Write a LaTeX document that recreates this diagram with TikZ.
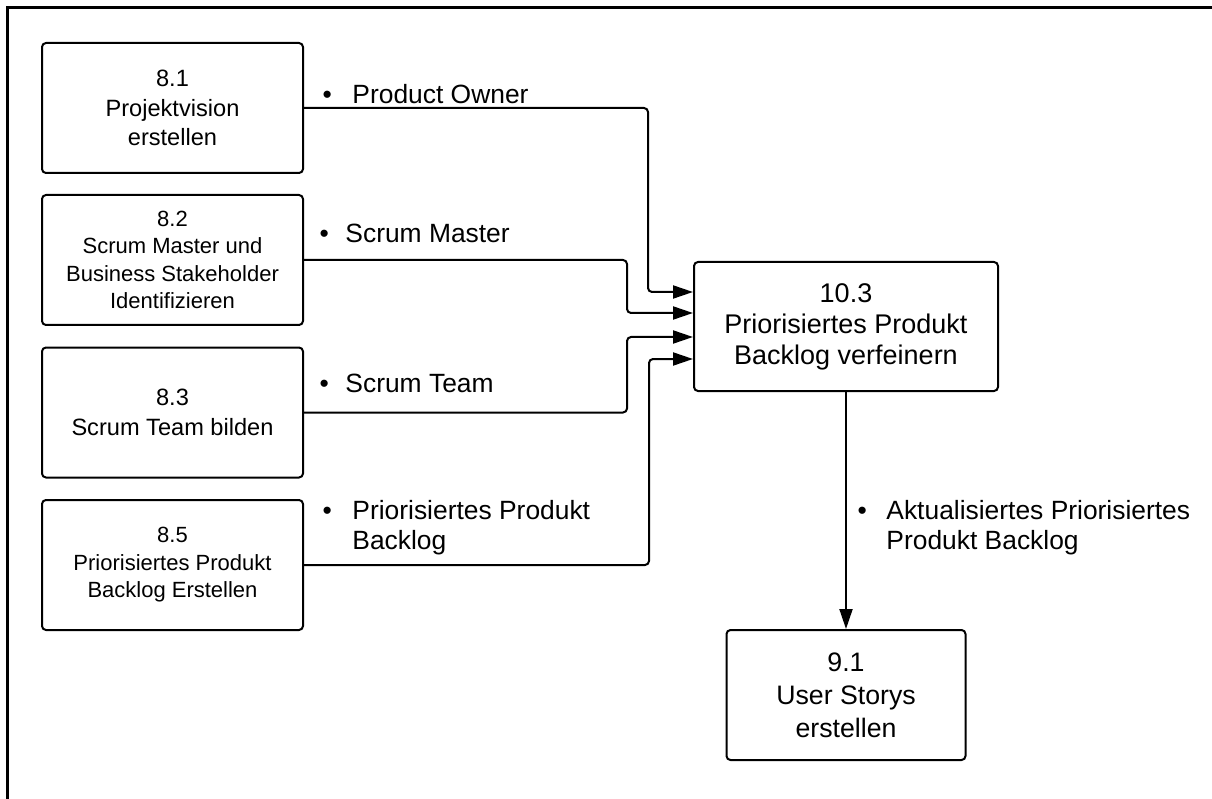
\documentclass[tikz,border=0pt]{standalone}
\usepackage{fontspec}
\setmainfont{Liberation Sans}
\usetikzlibrary{arrows.meta}

\begin{document}
\begin{tikzpicture}[x=1pt, y=-1pt,
	box/.style={draw, line width=2pt, rounded corners=4pt, align=center, inner sep=0pt},
	conn/.style={line width=2pt, rounded corners=4pt, -{Triangle[length=20pt,width=13pt]}},
	lbl/.style={anchor=west, inner sep=0pt, font=\fontsize{26.4}{30}\selectfont}]
	\useasboundingbox (0,0) rectangle (1212,799);
	\draw[line width=3pt] (7,799) -- (7,8) -- (1212,8);
	% processes on the left
	\node[box, minimum width=261pt, minimum height=130pt, font=\fontsize{23.6}{29.5}\selectfont] (box81) at (172.5,108) {8.1\\Projektvision\\erstellen};
	\node[box, minimum width=261pt, minimum height=130pt, font=\fontsize{22}{27.5}\selectfont] (box82) at (172.5,260) {8.2\\Scrum Master und\\Business Stakeholder\\Identifizieren};
	\node[box, minimum width=261pt, minimum height=130pt, font=\fontsize{23.6}{29.5}\selectfont] (box83) at (172.5,412.5) {8.3\\Scrum Team bilden};
	\node[box, minimum width=261pt, minimum height=130pt, font=\fontsize{22}{27.5}\selectfont] (box85) at (172.5,565) {8.5\\Priorisiertes Produkt\\Backlog Erstellen};
	% refine and output
	\node[box, minimum width=304pt, minimum height=129pt, font=\fontsize{27}{31}\selectfont] (box103) at (846,326.5) {10.3\\Priorisiertes Produkt\\Backlog verfeinern};
	\node[box, minimum width=239pt, minimum height=130pt, font=\fontsize{26.7}{33}\selectfont] (box91) at (846,695) {9.1\\User Storys\\erstellen};
	% inputs
	\foreach \src/\dy/\dx in {box81/34.5/45, box82/13.5/66, box83/-10.5/66, box85/-32.5/44} {
		\coordinate (in-\src) at ([yshift=\dy pt]box103.west);
		\draw[conn] (\src.east) -| ([xshift=-\dx pt]in-\src) -- (in-\src);
	}
	\draw[conn] (box103.south) -- (box91.north);
	% labels
	\node[lbl] (lPO) at (322.5,94) {\textbullet\hspace{20.5pt}Product Owner};
	\node[lbl] (lSM) at (319.5,233) {\textbullet\hspace{16.5pt}Scrum Master};
	\node[lbl] (lST) at (319.5,383) {\textbullet\hspace{16.5pt}Scrum Team};
	\node[lbl] (lPB) at (322.5,528) {\begin{tabular}{@{}l@{\hspace{20.5pt}}l@{}}\textbullet & Priorisiertes Produkt\\ & Backlog\end{tabular}};
	\node[lbl] (lAB) at (857.5,528) {\begin{tabular}{@{}l@{\hspace{19.5pt}}l@{}}\textbullet & Aktualisiertes Priorisiertes\\ & Produkt Backlog\end{tabular}};
\end{tikzpicture}
\end{document}
